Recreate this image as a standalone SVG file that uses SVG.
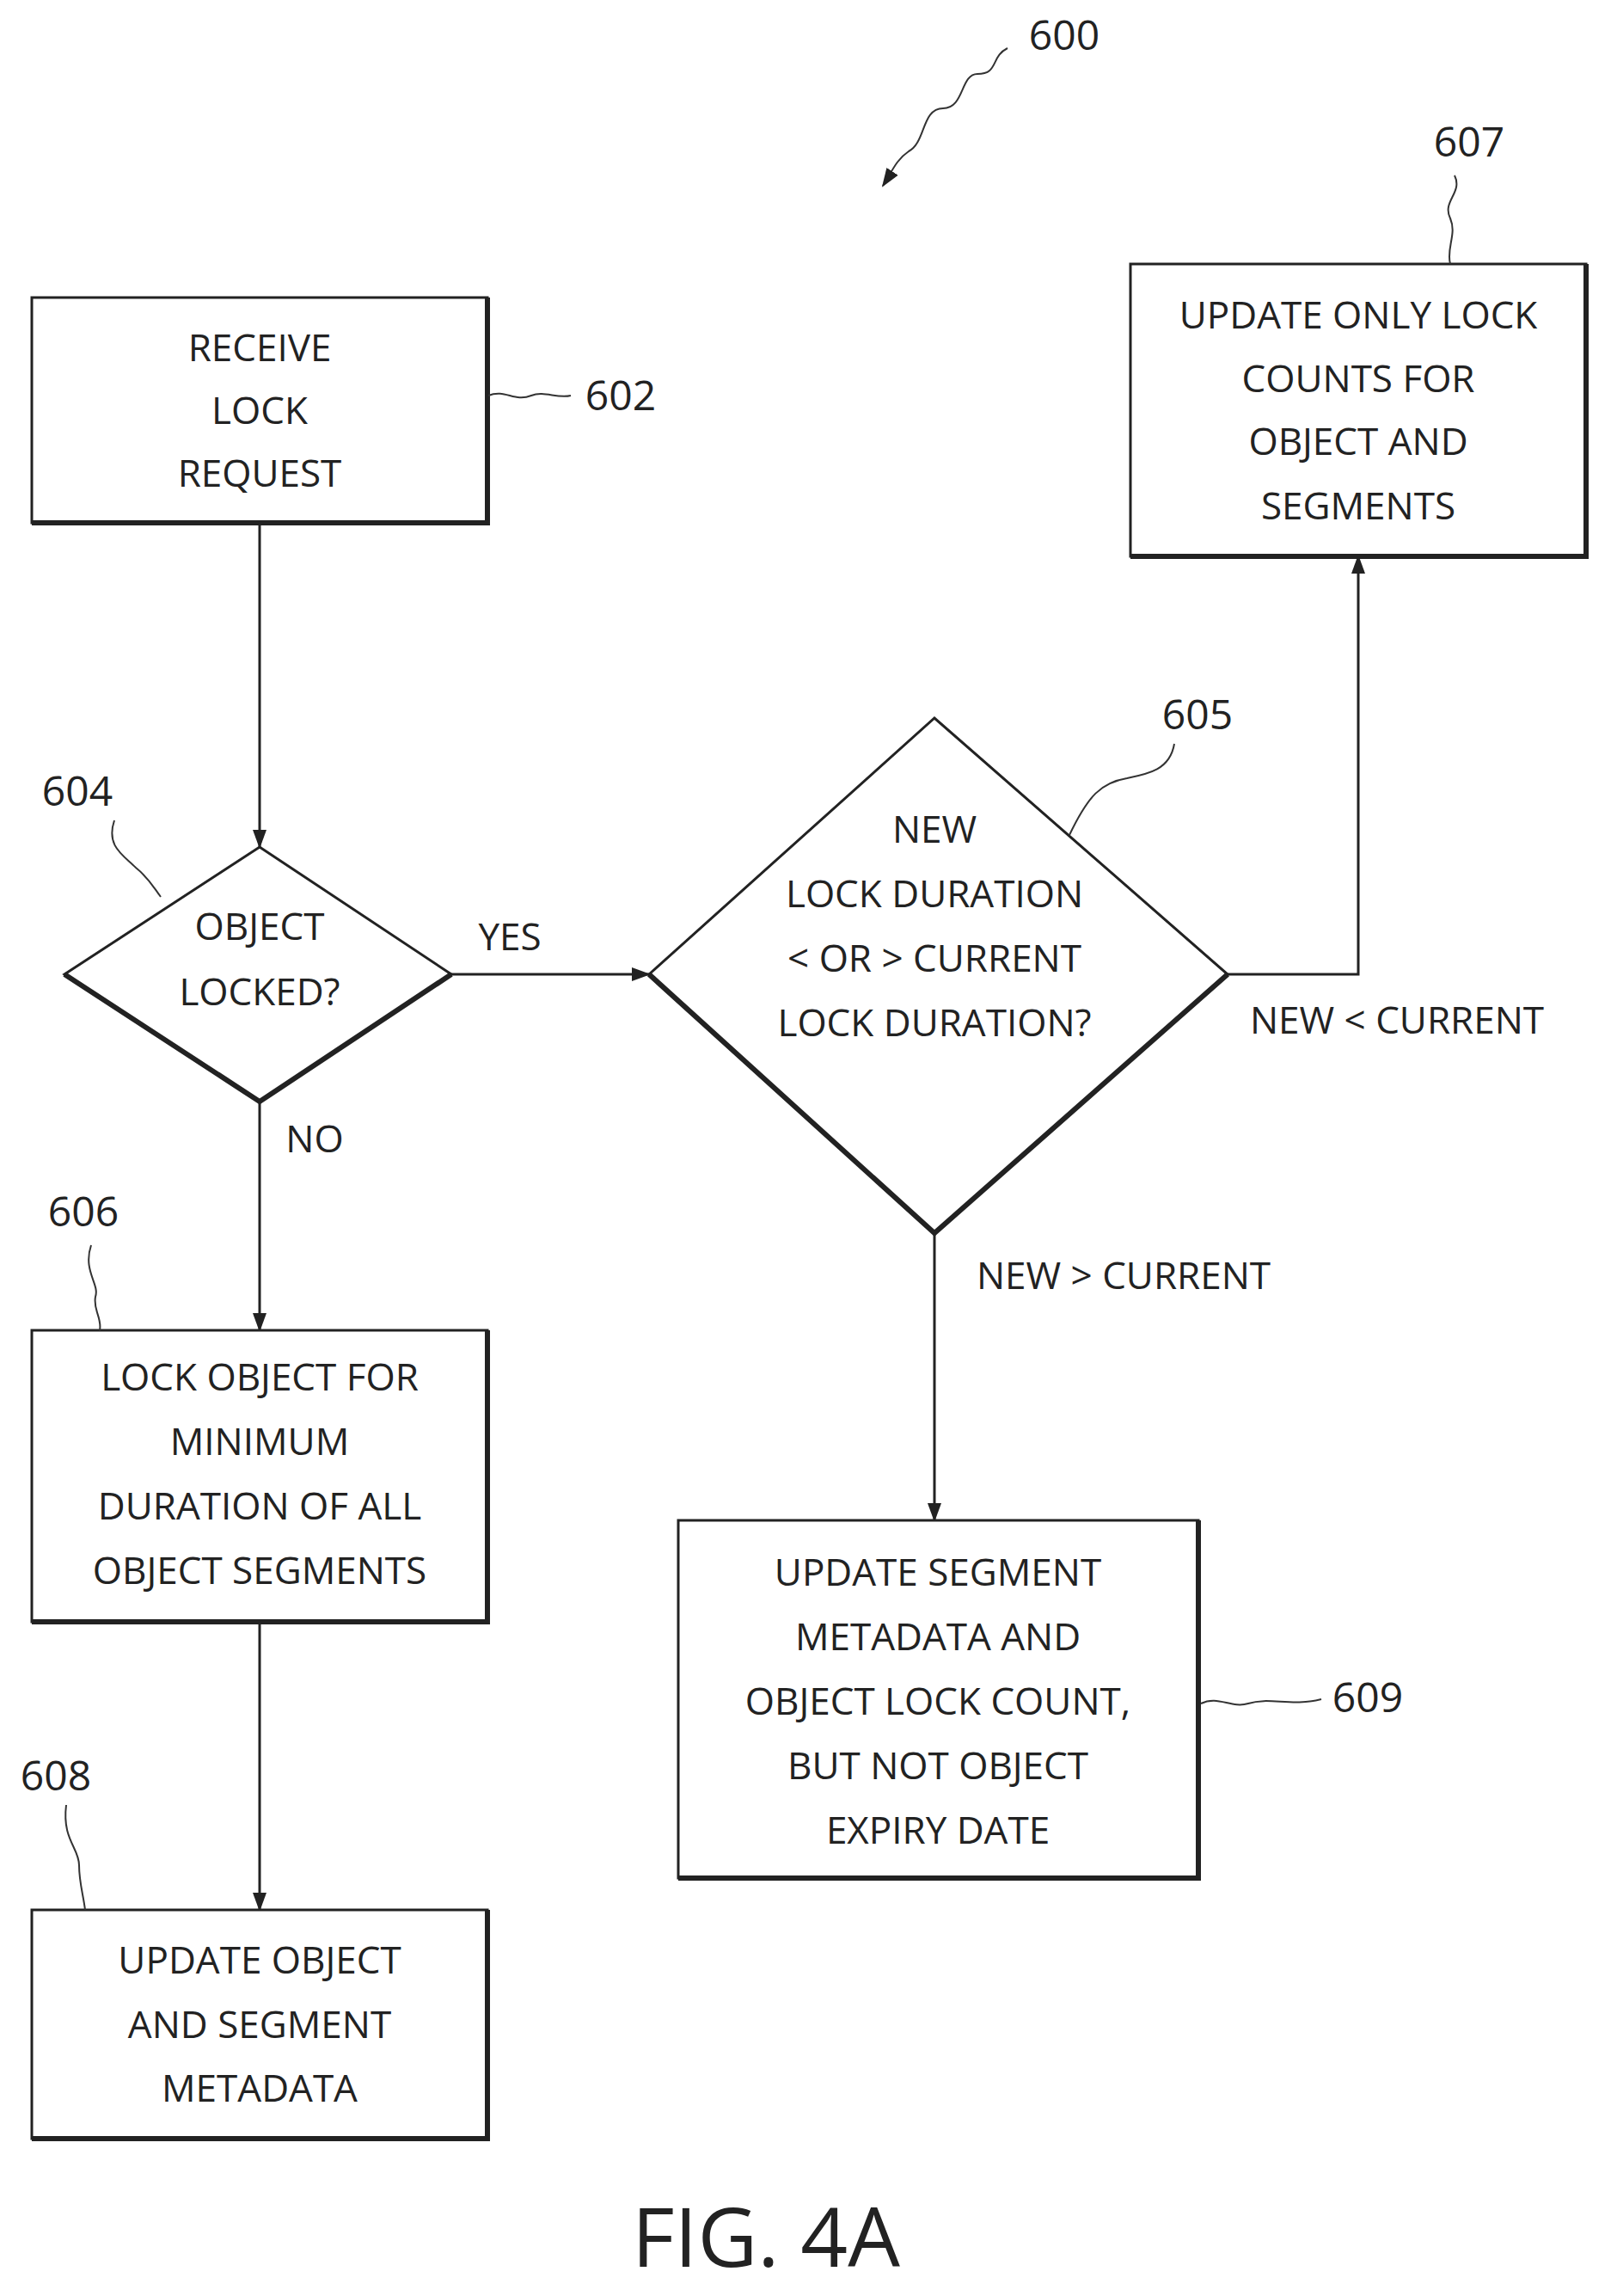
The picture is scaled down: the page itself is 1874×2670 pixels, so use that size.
<svg xmlns="http://www.w3.org/2000/svg" width="1874" height="2670" viewBox="0 0 1874 2670">
<style>
.b{fill:#fff;stroke:#222;stroke-width:3}
.s{fill:none;stroke:#222;stroke-width:6}
.t{font-family:"Open Sans","Liberation Sans",sans-serif;font-size:44px;fill:#222;text-anchor:middle}
.n{font-family:"Open Sans","Liberation Sans",sans-serif;font-size:48px;fill:#222;text-anchor:middle}
.c{fill:none;stroke:#222;stroke-width:3}
.l{fill:none;stroke:#333;stroke-width:2}
</style>
<defs>
<marker id="a2" markerWidth="24" markerHeight="24" refX="20" refY="12" orient="auto" markerUnits="userSpaceOnUse" viewBox="0 0 24 24"><path d="M0,4 L22,12 L0,20 z" fill="#222"/></marker></defs>
<g id="connectors">
<path class="c" d="M302,608 V985" marker-end="url(#a2)"/>
<path class="c" d="M525,1133 H755" marker-end="url(#a2)"/>
<path class="c" d="M1428,1133 H1580 V647" marker-end="url(#a2)"/>
<path class="c" d="M302,1281 V1547" marker-end="url(#a2)"/>
<path class="c" d="M302,1886 V2221" marker-end="url(#a2)"/>
<path class="c" d="M1087,1434 V1768" marker-end="url(#a2)"/>
<text class="t" x="593" y="1105">YES</text>
<text class="t" x="366" y="1340">NO</text>
<text class="t" x="1625" y="1202">NEW &lt; CURRENT</text>
<text class="t" x="1307" y="1499">NEW &gt; CURRENT</text>
</g>
<g id="n600"><path class="l" d="M1172,56 c-20,10 -10,30 -35,30 c-20,0 -15,40 -40,40 c-25,0 -20,40 -40,50 c-15,10 -20,25 -30,40" marker-end="url(#a2)"/><text class="n" x="1238" y="58">600</text></g>
<g id="n602"><rect class="b" x="37" y="346" width="530" height="262"/><path class="s" d="M37,608 H567 V346"/>
<text class="t" x="302" y="420">RECEIVE</text><text class="t" x="302" y="493">LOCK</text><text class="t" x="302" y="566">REQUEST</text>
<path class="l" d="M568,460 c20,-8 30,8 50,0 c15,-6 30,4 46,0"/><text class="n" x="722" y="477">602</text></g>
<g id="n607"><rect class="b" x="1315" y="307" width="530" height="340"/><path class="s" d="M1315,647 H1845 V307"/>
<text class="t" x="1580" y="382">UPDATE ONLY LOCK</text><text class="t" x="1580" y="456">COUNTS FOR</text><text class="t" x="1580" y="529">OBJECT AND</text><text class="t" x="1580" y="604">SEGMENTS</text>
<path class="l" d="M1692,204 c10,20 -15,30 -5,50 c8,18 -5,35 0,53"/><text class="n" x="1709" y="182">607</text></g>
<g id="n604"><path class="b" d="M75,1133 L302,985 L525,1133 L302,1281 Z"/><path class="s" d="M75,1133 L302,1281 L525,1133"/>
<text class="t" x="302" y="1093">OBJECT</text><text class="t" x="302" y="1169">LOCKED?</text>
<path class="l" d="M133,954 c-10,30 10,40 25,55 c15,12 20,22 29,34"/><text class="n" x="90" y="937">604</text></g>
<g id="n605"><path class="b" d="M755,1133 L1087,835 L1428,1133 L1087,1434 Z"/><path class="s" d="M755,1133 L1087,1434 L1428,1133"/>
<text class="t" x="1087" y="980">NEW</text><text class="t" x="1087" y="1055">LOCK DURATION</text><text class="t" x="1087" y="1130">&lt; OR &gt; CURRENT</text><text class="t" x="1087" y="1205">LOCK DURATION?</text>
<path class="l" d="M1366,865 c-5,30 -30,35 -55,40 c-30,5 -45,20 -67,66"/><text class="n" x="1393" y="848">605</text></g>
<g id="n606"><rect class="b" x="37" y="1547" width="530" height="339"/><path class="s" d="M37,1886 H567 V1547"/>
<text class="t" x="302" y="1617">LOCK OBJECT FOR</text><text class="t" x="302" y="1692">MINIMUM</text><text class="t" x="302" y="1767">DURATION OF ALL</text><text class="t" x="302" y="1842">OBJECT SEGMENTS</text>
<path class="l" d="M106,1448 c-10,30 10,45 5,60 c-3,15 8,25 5,39"/><text class="n" x="97" y="1426">606</text></g>
<g id="n608"><rect class="b" x="37" y="2221" width="530" height="266"/><path class="s" d="M37,2487 H567 V2221"/>
<text class="t" x="302" y="2295">UPDATE OBJECT</text><text class="t" x="302" y="2370">AND SEGMENT</text><text class="t" x="302" y="2444">METADATA</text>
<path class="l" d="M77,2099 c-5,40 15,50 15,70 c0,20 5,35 7,52"/><text class="n" x="65" y="2082">608</text></g>
<g id="n609"><rect class="b" x="789" y="1768" width="605" height="416"/><path class="s" d="M789,2184 H1394 V1768"/>
<text class="t" x="1091" y="1844">UPDATE SEGMENT</text><text class="t" x="1091" y="1919">METADATA AND</text><text class="t" x="1091" y="1994">OBJECT LOCK COUNT,</text><text class="t" x="1091" y="2069">BUT NOT OBJECT</text><text class="t" x="1091" y="2144">EXPIRY DATE</text>
<path class="l" d="M1397,1981 c20,-10 35,6 55,0 c25,-8 50,4 85,-5"/><text class="n" x="1591" y="1991">609</text></g>
<text x="891" y="2636" font-family="'Open Sans','Liberation Sans',sans-serif" font-size="96" fill="#222" text-anchor="middle">FIG. 4A</text>
</svg>
